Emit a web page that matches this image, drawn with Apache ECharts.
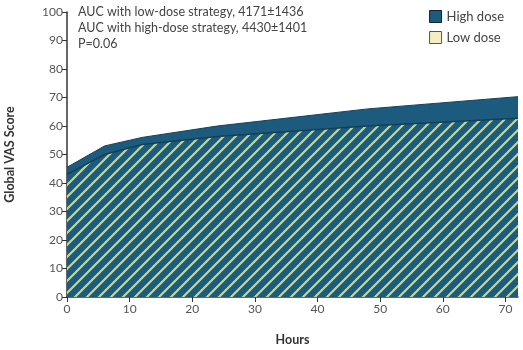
<!DOCTYPE html>
<html>
<head>
<meta charset="utf-8">
<script src="https://cdn.jsdelivr.net/npm/echarts@6/dist/echarts.min.js"></script>
<style>
html,body{margin:0;padding:0;background:#fff;}
#chart{width:523px;height:350px;}
</style>
</head>
<body>
<div id="chart"></div>
<script>
// data
var hours = [0, 6, 12, 24, 48, 72];
var highDose = [45.5, 53, 56, 60, 66, 70.3];
var lowDose = [43, 50, 53.5, 56.3, 60, 62.7];
var yTicks = [0, 10, 20, 30, 40, 50, 60, 70, 80, 90, 100];
var notes = ['AUC with low-dose strategy, 4171\u00b11436', 'AUC with high-dose strategy, 4430\u00b11401', 'P=0.06'];

var blue = '#1c5a7e';
var font = 'Lato';

// hatch tile for the low dose area
var tile = document.createElement('canvas');
tile.width = 12; tile.height = 12;
var ctx = tile.getContext('2d');
ctx.fillStyle = blue;
ctx.fillRect(0, 0, 12, 12);
ctx.strokeStyle = '#bcd89c';
ctx.lineWidth = 2.2;
ctx.beginPath();
ctx.moveTo(-2, 14); ctx.lineTo(14, -2);
ctx.moveTo(-2, 2); ctx.lineTo(2, -2);
ctx.moveTo(10, 14); ctx.lineTo(14, 10);
ctx.stroke();

function pairs(v) {
    var out = [];
    for (var i = 0; i < hours.length; i++) out.push([hours[i], v[i]]);
    return out;
}

var chart = echarts.init(document.getElementById('chart'), null, {renderer: 'canvas'});

var option = {
    animation: false,
    textStyle: {fontFamily: font},
    grid: {left: 67, right: 5, top: 12, bottom: 53, containLabel: false, outerBoundsMode: 'none'},
    legend: {
        right: 14, top: 5, orient: 'vertical', itemGap: 8,
        itemWidth: 12, itemHeight: 12,
        textStyle: {fontSize: 13, color: '#444', fontFamily: font},
        data: [
            {name: 'High dose', icon: 'rect', itemStyle: {color: blue, borderColor: '#123', borderWidth: 1}},
            {name: 'Low dose', icon: 'rect', itemStyle: {color: '#f4efc2', borderColor: '#555', borderWidth: 1}}
        ]
    },
    graphic: notes.map(function (t, i) {
        return {
            type: 'text', left: 78, top: 5 + i * 16,
            style: {text: t, fontSize: 12.5, fill: '#444', fontFamily: font}
        };
    }),
    xAxis: {
        type: 'value', min: 0, max: 72, interval: 10,
        name: 'Hours', nameLocation: 'middle', nameGap: 36,
        nameTextStyle: {fontSize: 12.5, fontWeight: 'bold', color: '#333', fontFamily: font},
        axisLine: {lineStyle: {color: '#333', width: 1.5}},
        axisTick: {show: true, length: 5, lineStyle: {color: '#333'}},
        axisLabel: {fontSize: 12, color: '#555', margin: 6, showMaxLabel: false},
        splitLine: {show: false}
    },
    yAxis: {
        type: 'value', min: 0, max: 100, interval: 10,
        name: 'Global VAS Score', nameLocation: 'middle', nameGap: 51, nameRotate: 90,
        nameTextStyle: {fontSize: 12.5, fontWeight: 'bold', color: '#333', fontFamily: font},
        axisLine: {show: true, lineStyle: {color: '#333', width: 1.5}},
        axisTick: {show: true, length: 5, lineStyle: {color: '#333'}},
        axisLabel: {fontSize: 12, color: '#555', margin: 4,
            formatter: function (v) { return yTicks.indexOf(v) >= 0 ? v : ''; }},
        splitLine: {show: false}
    },
    series: [
        {
            name: 'High dose', type: 'line', data: pairs(highDose),
            symbol: 'none', z: 1,
            lineStyle: {color: '#14405a', width: 1},
            itemStyle: {color: blue},
            areaStyle: {color: blue, opacity: 1}
        },
        {
            name: 'Low dose', type: 'line', data: pairs(lowDose),
            symbol: 'none', z: 2,
            lineStyle: {color: '#143f58', width: 1.5},
            itemStyle: {color: '#f4efc2'},
            areaStyle: {color: {image: tile, repeat: 'repeat'}, opacity: 1}
        }
    ]
};
chart.setOption(option);
</script>
</body>
</html>
